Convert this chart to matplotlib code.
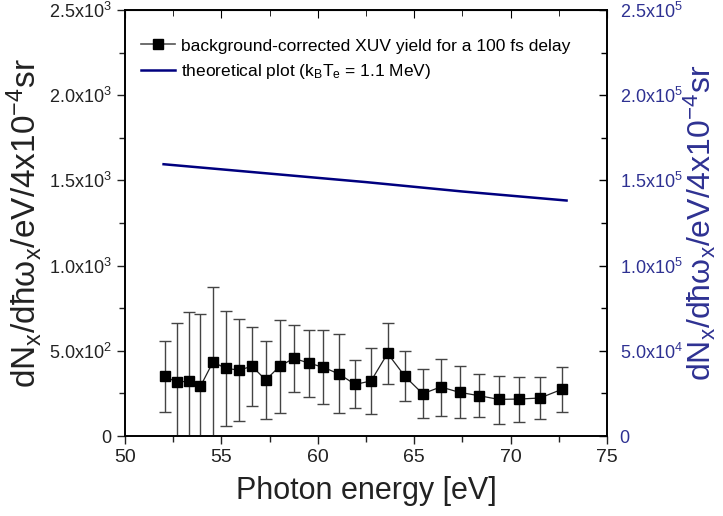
import numpy as np
import matplotlib
matplotlib.use('Agg')
import matplotlib.pyplot as plt
from matplotlib.ticker import MultipleLocator, FixedLocator

plt.rcParams['font.family'] = ['Liberation Sans', 'DejaVu Sans']
plt.rcParams['mathtext.fontset'] = 'custom'
plt.rcParams['mathtext.rm'] = 'Liberation Sans'
plt.rcParams['mathtext.it'] = 'Liberation Sans'
plt.rcParams['mathtext.default'] = 'regular'

'''
Data
'''
energy = [52.07, 52.68, 53.30, 53.91, 54.56, 55.24, 55.90, 56.59, 57.30, 58.02,
          58.75, 59.54, 60.29, 61.10, 61.93, 62.76, 63.62, 64.52, 65.44, 66.37,
          67.36, 68.35, 69.38, 70.44, 71.52, 72.66]
yield_xuv = [352, 315, 323, 291, 434, 397, 387, 409, 329, 409,
             456, 428, 403, 364, 303, 323, 485, 350, 248, 288,
             256, 237, 215, 217, 223, 274]
err_top = [559, 661, 728, 716, 872, 733, 689, 638, 559, 683,
           650, 624, 624, 597, 444, 518, 665, 497, 393, 454,
           409, 366, 354, 346, 348, 407]
err_bottom = [141, -60, -60, -60, -60, 59, 86, 176, 98, 133,
              258, 231, 188, 135, 162, 127, 303, 207, 108, 119,
              108, 112, 68, 84, 98, 139]

theo_energy = [52.0, 57.0, 62.5, 67.5, 72.9]
theo_yield = [1.595e5, 1.545e5, 1.49e5, 1.435e5, 1.382e5]

left_ticks = [0, 500, 1000, 1500, 2000, 2500]
left_labels = ['0', r'5.0x10$^2$', r'1.0x10$^3$', r'1.5x10$^3$', r'2.0x10$^3$', r'2.5x10$^3$']
right_ticks = [0, 5e4, 1e5, 1.5e5, 2e5, 2.5e5]
right_labels = ['0', r'5.0x10$^4$', r'1.0x10$^5$', r'1.5x10$^5$', r'2.0x10$^5$', r'2.5x10$^5$']

'''
Plot
'''
blue_txt = '#2e3192'
navy = '#00007f'
ylab = r'dN$_x$/dħω$_x$/eV/4x10$^{-4}$sr'

fig = plt.figure(figsize=(7.23, 5.16), dpi=100)
ax = fig.add_axes([0.1729, 0.155, 0.6667, 0.8256])
ax2 = ax.twinx()

y = np.array(yield_xuv)
yerr = [y - np.array(err_bottom), np.array(err_top) - y]
ax.errorbar(energy, y, yerr=yerr, fmt='s-', color='#222222', ms=7.5,
            ecolor='#444444', elinewidth=1.0, capsize=4.5, capthick=1.0,
            lw=0.9, mfc='black', mec='black', zorder=3)
h1, = ax.plot([], [], 's-', color='#555555', mfc='black', mec='black', ms=7.5, lw=1.2)

ax2.plot(theo_energy, theo_yield, color=navy, lw=1.8)
h2, = ax.plot([], [], color=navy, lw=1.8)

ax.set_xlim(50, 75)
ax.set_ylim(0, 2500)
ax2.set_ylim(0, 2.5e5)

ax.xaxis.set_major_locator(MultipleLocator(5))
ax.xaxis.set_minor_locator(MultipleLocator(2.5))
ax.yaxis.set_major_locator(FixedLocator(left_ticks))
ax.yaxis.set_minor_locator(MultipleLocator(250))
ax.set_yticklabels(left_labels)
ax2.yaxis.set_major_locator(FixedLocator(right_ticks))
ax2.yaxis.set_minor_locator(MultipleLocator(2.5e4))
ax2.set_yticklabels(right_labels)

ax.tick_params(axis='both', which='both', direction='out', labelsize=13, colors='#222222')
ax.tick_params(axis='both', which='major', length=6, width=1)
ax.tick_params(axis='both', which='minor', length=4, width=1)
ax.tick_params(axis='x', which='major', labelsize=14)
ax.tick_params(axis='x', top=False, which='both')
ax2.tick_params(axis='y', which='both', direction='in', labelsize=13,
                labelcolor=blue_txt, pad=9)
ax2.tick_params(axis='y', which='major', length=6, width=1)
ax2.tick_params(axis='y', which='minor', length=4, width=1)

# top ticks point inward
secx = ax.secondary_xaxis('top')
secx.xaxis.set_major_locator(MultipleLocator(5))
secx.xaxis.set_minor_locator(MultipleLocator(2.5))
secx.tick_params(which='both', direction='in', labeltop=False)
secx.tick_params(which='major', length=6)
secx.tick_params(which='minor', length=4)

for a in (ax, ax2):
    for s in a.spines.values():
        s.set_linewidth(1.2)

ax.set_xlabel('Photon energy [eV]', fontsize=22, color='#222222', labelpad=7)
ax.set_ylabel(ylab, fontsize=24, color='#222222', labelpad=4)
ax2.set_ylabel(ylab, fontsize=23, color=blue_txt, va='center')
ax2.yaxis.set_label_coords(1.193, 0.5)

ax.legend([h1, h2], ['background-corrected XUV yield for a 100 fs delay',
                     r'theoretical plot (k$_B$T$_e$ = 1.1 MeV)'],
          loc='upper left', frameon=False, fontsize=12.5, handlelength=2.0,
          handletextpad=0.3, labelspacing=0.5, bbox_to_anchor=(0.0, 0.97))

fig.savefig('out.png', dpi=100)
